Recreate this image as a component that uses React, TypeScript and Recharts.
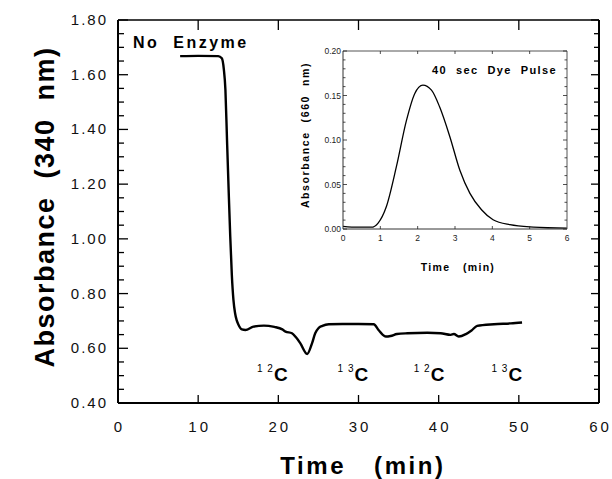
import React from 'react';
import { LineChart, Line, XAxis, YAxis, ReferenceDot } from 'recharts';

// ---- Main chart data (Time in min, Absorbance at 340 nm) ----
const mainTime = [7.75, 10, 12.5, 12.95, 13.2, 13.4, 13.6, 13.8, 14.0, 14.2, 14.4, 14.6, 14.8, 15.0, 15.45, 15.9, 16.9, 18.2, 19.5, 20.5, 20.9, 21.7, 22.2, 22.75, 23.6, 24.2, 24.6, 25.0, 25.5, 26.3, 28.0, 30.0, 31.9, 32.5, 33.0, 33.4, 34.0, 34.8, 36.1, 38.6, 40.25, 41.5, 41.9, 42.5, 43.4, 44.1, 44.8, 46.9, 49.0, 50.4];
const mainAbs = [1.668, 1.669, 1.668, 1.66, 1.62, 1.544, 1.36, 1.18, 1.01, 0.868, 0.777, 0.729, 0.703, 0.688, 0.669, 0.667, 0.679, 0.683, 0.678, 0.669, 0.661, 0.655, 0.64, 0.618, 0.579, 0.618, 0.655, 0.673, 0.682, 0.688, 0.689, 0.689, 0.688, 0.667, 0.65, 0.643, 0.645, 0.652, 0.655, 0.657, 0.655, 0.649, 0.652, 0.643, 0.652, 0.665, 0.682, 0.688, 0.691, 0.694];

const mainXTicks = [0, 10, 20, 30, 40, 50, 60];
const mainYTicks = [0.4, 0.45, 0.5, 0.55, 0.6, 0.65, 0.7, 0.75, 0.8, 0.85, 0.9, 0.95, 1.0, 1.05, 1.1, 1.15, 1.2, 1.25, 1.3, 1.35, 1.4, 1.45, 1.5, 1.55, 1.6, 1.65, 1.7, 1.75, 1.8];

// isotope annotations: centre time, label baseline absorbance
const isoTime = [19.25, 29.3, 38.8, 48.5];
const isoMass = ['1 2', '1 3', '1 2', '1 3'];
const isoAbs = 0.481;

// ---- Inset data (Time in min, Absorbance at 660 nm) ----
const insetTime = [0, 0.4, 0.76, 0.94, 1.16, 1.43, 1.7, 1.92, 2.14, 2.37, 2.59, 2.86, 3.13, 3.4, 3.71, 4.02, 4.47, 5.1, 6.0];
const insetAbs = [0.003, 0.002, 0.002, 0.0067, 0.025, 0.07, 0.122, 0.152, 0.1616, 0.156, 0.137, 0.104, 0.066, 0.04, 0.0216, 0.0104, 0.0048, 0.0022, 0.001];
const insetXTicks = [0, 1, 2, 3, 4, 5, 6];
const insetYTicks = [0, 0.01, 0.02, 0.03, 0.04, 0.05, 0.06, 0.07, 0.08, 0.09, 0.1, 0.11, 0.12, 0.13, 0.14, 0.15, 0.16, 0.17, 0.18, 0.19, 0.2];

const mainData = mainTime.map((t, i) => ({ t, a: mainAbs[i] }));
const insetData = insetTime.map((t, i) => ({ t, a: insetAbs[i] }));

const FONT = '"Liberation Sans", Arial, Helvetica, sans-serif';
const isMult = (v: number, step: number) => Math.abs(v / step - Math.round(v / step)) < 1e-6;

// ---- Main tick renderers ----
const MainLeftTick = (p: any) => {
  const v = p.payload.value;
  const major = isMult(v, 0.2);
  return (
    <g>
      <line x1={p.x} x2={p.x + (major ? 10 : 6)} y1={p.y} y2={p.y} stroke="#000" strokeWidth={1.3} />
      {major && (
        <text x={p.x - 10} y={p.y + 5} textAnchor="end" fontFamily={FONT} fontSize={15} fill="#111" style={{ letterSpacing: 2 }}>
          {v.toFixed(2)}
        </text>
      )}
    </g>
  );
};
const MainRightTick = (p: any) => {
  const v = p.payload.value;
  const major = isMult(v, 0.2);
  return <line x1={p.x} x2={p.x - (major ? 8 : 5)} y1={p.y} y2={p.y} stroke="#000" strokeWidth={1.3} />;
};
const MainBottomTick = (p: any) => {
  const v = p.payload.value;
  return (
    <g>
      {v > 0 && v < 60 && <line x1={p.x} x2={p.x} y1={p.y} y2={p.y - 8} stroke="#000" strokeWidth={1.3} />}
      <text x={p.x + 1.5} y={p.y + 29} textAnchor="middle" fontFamily={FONT} fontSize={15} fill="#111" style={{ letterSpacing: 3 }}>
        {String(v)}
      </text>
    </g>
  );
};
const MainTopTick = (p: any) => {
  const v = p.payload.value;
  if (v <= 0 || v >= 60) return <g />;
  return <line x1={p.x} x2={p.x} y1={p.y} y2={p.y + 10} stroke="#000" strokeWidth={1.3} />;
};

// ---- Inset tick renderers ----
const InsetLeftTick = (p: any) => {
  const v = p.payload.value;
  const major = isMult(v, 0.05);
  return (
    <g>
      <line x1={p.x} x2={p.x + (major ? 4 : 2.5)} y1={p.y} y2={p.y} stroke="#222" strokeWidth={0.8} />
      {major && (
        <text x={p.x - 2} y={p.y + 3} textAnchor="end" fontFamily={FONT} fontSize={8.5} fill="#222">
          {v.toFixed(2)}
        </text>
      )}
    </g>
  );
};
const InsetRightTick = (p: any) => {
  const v = p.payload.value;
  const major = isMult(v, 0.05);
  return <line x1={p.x} x2={p.x - (major ? 4 : 2.5)} y1={p.y} y2={p.y} stroke="#222" strokeWidth={0.8} />;
};
const InsetBottomTick = (p: any) => {
  const v = p.payload.value;
  return (
    <g>
      {v > 0 && v < 6 && <line x1={p.x} x2={p.x} y1={p.y} y2={p.y - 3} stroke="#222" strokeWidth={0.8} />}
      <text x={p.x} y={p.y + 12} textAnchor="middle" fontFamily={FONT} fontSize={8.5} fill="#222">
        {String(v)}
      </text>
    </g>
  );
};
const InsetTopTick = (p: any) => {
  const v = p.payload.value;
  if (v <= 0 || v >= 6) return <g />;
  return <line x1={p.x} x2={p.x} y1={p.y} y2={p.y + 3} stroke="#222" strokeWidth={0.8} />;
};

const IsoLabel = (mass: string) => (p: any) => (
  <text x={p.cx} y={p.cy} textAnchor="middle" fontFamily={FONT} fill="#000" style={{ whiteSpace: 'pre' }}>
    <tspan fontSize={10} dy={-9} style={{ letterSpacing: 1 }}>{mass}</tspan>
    <tspan fontSize={19} fontWeight="bold" dy={9}>C</tspan>
  </text>
);

const PRE = { whiteSpace: 'pre' as const };

export default function App() {
  return (
    <div style={{ position: 'absolute', left: 0, top: 0, width: 612, height: 479, background: '#fff' }}>
      <LineChart width={612} height={479} data={mainData} margin={{ top: 0, right: 0, bottom: 0, left: 0 }}>
        <XAxis xAxisId="b" dataKey="t" type="number" domain={[0, 60]} ticks={mainXTicks} orientation="bottom" height={76}
          tickSize={0} tickMargin={0} tickLine={false} axisLine={{ stroke: '#000', strokeWidth: 2 }} tick={MainBottomTick} interval={0} allowDataOverflow />
        <XAxis xAxisId="t" dataKey="t" type="number" domain={[0, 60]} ticks={mainXTicks} orientation="top" height={20}
          tickSize={0} tickMargin={0} tickLine={false} axisLine={{ stroke: '#000', strokeWidth: 1.5 }} tick={MainTopTick} interval={0} allowDataOverflow />
        <YAxis yAxisId="l" type="number" domain={[0.4, 1.8]} ticks={mainYTicks} orientation="left" width={118}
          tickSize={0} tickMargin={0} tickLine={false} axisLine={{ stroke: '#000', strokeWidth: 2 }} tick={MainLeftTick} interval={0} allowDataOverflow />
        <YAxis yAxisId="r" type="number" domain={[0.4, 1.8]} ticks={mainYTicks} orientation="right" width={13}
          tickSize={0} tickMargin={0} tickLine={false} axisLine={{ stroke: '#000', strokeWidth: 2 }} tick={MainRightTick} interval={0} allowDataOverflow />
        <Line xAxisId="b" yAxisId="l" dataKey="a" type="monotone" stroke="#000" strokeWidth={2.4} dot={false} isAnimationActive={false} />
        {isoTime.map((t, i) => (
          <ReferenceDot key={i} xAxisId="b" yAxisId="l" x={t} y={isoAbs} r={0} shape={IsoLabel(isoMass[i])} />
        ))}
        <text x={133} y={48} fontFamily={FONT} fontSize={16} fontWeight="bold" fill="#000" style={{ ...PRE, letterSpacing: 2.5 }}>
          {'No  Enzyme'}
        </text>
        <text x={363} y={474} textAnchor="middle" fontFamily={FONT} fontSize={24} fontWeight="bold" fill="#000" style={{ ...PRE, letterSpacing: 2.6 }}>
          {'Time   (min)'}
        </text>
        <text x={0} y={0} transform="translate(54,207) rotate(-90)" textAnchor="middle" fontFamily={FONT} fontSize={27} fontWeight="bold" fill="#000" style={{ ...PRE, letterSpacing: 1.5 }}>
          {'Absorbance  (340  nm)'}
        </text>
      </LineChart>

      <div style={{ position: 'absolute', left: 290, top: 40, width: 290, height: 240 }}>
        <LineChart width={290} height={240} data={insetData} margin={{ top: 0, right: 0, bottom: 0, left: 0 }}>
          <XAxis xAxisId="b" dataKey="t" type="number" domain={[0, 6]} ticks={insetXTicks} orientation="bottom" height={51}
            tickSize={0} tickMargin={0} tickLine={false} axisLine={{ stroke: '#333', strokeWidth: 1 }} tick={InsetBottomTick} interval={0} allowDataOverflow />
          <XAxis xAxisId="t" dataKey="t" type="number" domain={[0, 6]} ticks={insetXTicks} orientation="top" height={11}
            tickSize={0} tickMargin={0} tickLine={false} axisLine={{ stroke: '#555', strokeWidth: 1 }} tick={InsetTopTick} interval={0} allowDataOverflow />
          <YAxis yAxisId="l" type="number" domain={[0, 0.2]} ticks={insetYTicks} orientation="left" width={53}
            tickSize={0} tickMargin={0} tickLine={false} axisLine={{ stroke: '#333', strokeWidth: 1 }} tick={InsetLeftTick} interval={0} allowDataOverflow />
          <YAxis yAxisId="r" type="number" domain={[0, 0.2]} ticks={insetYTicks} orientation="right" width={13}
            tickSize={0} tickMargin={0} tickLine={false} axisLine={{ stroke: '#555', strokeWidth: 1 }} tick={InsetRightTick} interval={0} allowDataOverflow />
          <Line xAxisId="b" yAxisId="l" dataKey="a" type="monotone" stroke="#000" strokeWidth={1.3} dot={false} isAnimationActive={false} />
          <text x={142} y={34} fontFamily={FONT} fontSize={11} fontWeight="bold" fill="#000" style={{ ...PRE, letterSpacing: 1.4 }}>
            {'40  sec  Dye  Pulse'}
          </text>
          <text x={168} y={231} textAnchor="middle" fontFamily={FONT} fontSize={10.5} fontWeight="bold" fill="#000" style={{ ...PRE, letterSpacing: 1.3 }}>
            {'Time   (min)'}
          </text>
          <text x={0} y={0} transform="translate(19,95) rotate(-90)" textAnchor="middle" fontFamily={FONT} fontSize={10.5} fontWeight="bold" fill="#000" style={{ ...PRE, letterSpacing: 1.6 }}>
            {'Absorbance  (660  nm)'}
          </text>
        </LineChart>
      </div>
    </div>
  );
}
